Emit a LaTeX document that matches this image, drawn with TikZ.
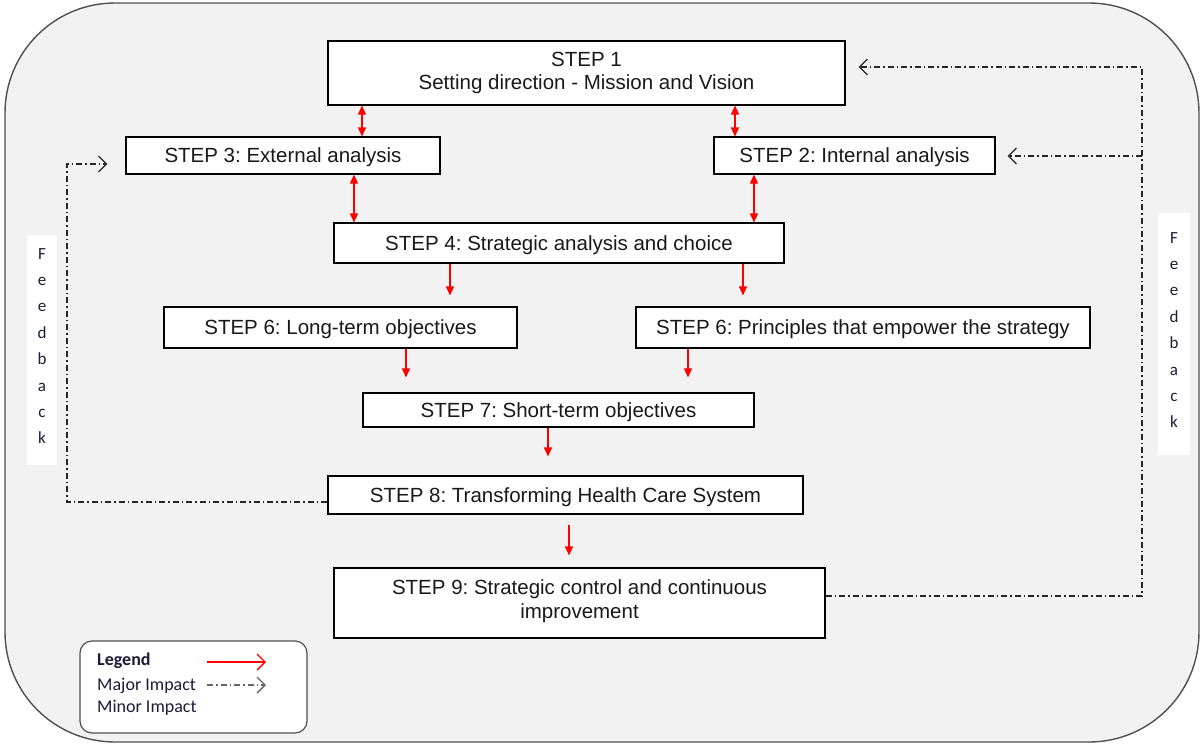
\documentclass[tikz,border=0pt]{standalone}
\usepackage{fontspec}
\setmainfont{Liberation Sans}
\newfontfamily\calib{Carlito}
\usetikzlibrary{arrows.meta}
\definecolor{bgray}{HTML}{F2F2F2}
\definecolor{framec}{HTML}{505050}
\definecolor{legtext}{HTML}{1C1C38}
\frenchspacing
\begin{document}
\begin{tikzpicture}[x=1pt,y=-1pt,
  stepbox/.style={draw=black, line width=1.1pt, fill=white, inner sep=0pt, align=center,
    font=\fontsize{20.5}{23.5}\selectfont, text=black!90},
  oneline/.style={text height=14.7pt, text depth=0pt},
  major/.style={draw=red, line width=1.4pt, -{Triangle[length=9pt,width=8pt]}},
  majorboth/.style={draw=red, line width=1.4pt, {Triangle[length=9pt,width=8pt]}-{Triangle[length=9pt,width=8pt]}},
  minor/.style={draw=black!85, line width=1.1pt, dash pattern=on 6pt off 3pt on 1.5pt off 3pt,
    -{Straight Barb[length=8pt,width=16pt,line width=1.3pt]}},
  fbbox/.style={fill=white, inner sep=0pt, align=center, text=legtext,
    font=\calib\fontsize{17}{26.4}\selectfont},
  legtxt/.style={anchor=west, inner sep=0pt, text=legtext, font=\calib\fontsize{18}{20}\selectfont}
]
\useasboundingbox (0,0) rectangle (1203,745);
\fill[white] (0,0) rectangle (1203,745);
\draw[framec, line width=1.4pt, fill=bgray, rounded corners=110pt] (5,3) rectangle (1199,742);

% step boxes
\node[stepbox, minimum width=517, minimum height=64] (s1) at (586.5,73) {STEP 1\\Setting direction - Mission and Vision};
\node[stepbox, oneline, minimum width=314, minimum height=37] (s3) at (283,155.5) {STEP 3: External analysis};
\node[stepbox, oneline, minimum width=281, minimum height=37] (s2) at (854.5,155.5) {STEP 2: Internal analysis};
\node[stepbox, oneline, minimum width=450, minimum height=40] (s4) at (559,243) {STEP 4: Strategic analysis and choice};
\node[stepbox, oneline, minimum width=353, minimum height=41] (s6l) at (340.5,327.5) {STEP 6: Long-term objectives};
\node[stepbox, oneline, minimum width=454, minimum height=41] (s6r) at (863,327.5) {STEP 6: Principles that empower the strategy};
\node[stepbox, oneline, minimum width=391, minimum height=34] (s7) at (558.5,410) {STEP 7: Short-term objectives};
\node[stepbox, oneline, minimum width=475, minimum height=38] (s8) at (565.5,495) {STEP 8: Transforming Health Care System};
\node[stepbox, minimum width=491, minimum height=70] (s9) at (579.5,603) {};
\node[align=center, inner sep=0pt, font=\fontsize{20.5}{23.5}\selectfont, text=black!90] (s9t) at (579.5,601) {STEP 9: Strategic control and continuous\\improvement};

% red connectors
\draw[majorboth] (s1.south -| 362,0) -- (s3.north -| 362,0);
\draw[majorboth] (s1.south -| 735,0) -- (s2.north -| 735,0);
\draw[majorboth] (s3.south -| 354,0) -- (s4.north -| 354,0);
\draw[majorboth] (s2.south -| 754,0) -- (s4.north -| 754,0);
\draw[major, shorten >=11pt] (s4.south -| 450,0) -- (s6l.north -| 450,0);
\draw[major, shorten >=11pt] (s4.south -| 743,0) -- (s6r.north -| 743,0);
\draw[major, shorten >=15pt] (s6l.south -| 406,0) -- (s7.north -| 406,0);
\draw[major, shorten >=15pt] (s6r.south -| 688,0) -- (s7.north -| 688,0);
\draw[major, shorten >=19pt] (s7.south -| 548,0) -- (s8.north -| 548,0);
\draw[major, shorten <=10pt, shorten >=12pt] (s8.south -| 569,0) -- (s9.north -| 569,0);

% feedback connectors
\coordinate (fl1) at (67,502);
\coordinate (fl2) at (67,164);
\draw[minor, shorten >=18pt] (s8.west |- fl1) -- (fl1) -- (fl2) -- (s3.west |- fl2);
\coordinate (fr1) at (1142,596);
\coordinate (fr2) at (1142,67);
\coordinate (fr3) at (1142,156);
\draw[minor, shorten >=13pt] (s9.east |- fr1) -- (fr1) -- (fr2) -- (s1.east |- fr2);
\draw[minor, shorten >=12pt] (fr3) -- (s2.east |- fr3);

% feedback labels
\node[fbbox, minimum width=30, minimum height=230] (fbl) at (42,350) {};
\node[fbbox] (fblt) at (42,346) {F\\e\\e\\d\\b\\a\\c\\k};
\node[fbbox, minimum width=32, minimum height=242] (fbr) at (1174,334) {};
\node[fbbox] (fbrt) at (1174,330) {F\\e\\e\\d\\b\\a\\c\\k};

% legend
\draw[framec, line width=1.2pt, fill=white, rounded corners=12pt] (80,641) rectangle (307,733);
\node[legtxt, font=\calib\bfseries\fontsize{18}{20}\selectfont] (lg) at (97,661) {Legend};
\node[legtxt] (lmaj) at (97,686) {Major Impact};
\node[legtxt] (lmin) at (97,708) {Minor Impact};
\coordinate (la1) at (207,662);
\coordinate (la2) at (266,662);
\coordinate (lb1) at (207,685);
\coordinate (lb2) at (266,685);
\draw[draw=red, line width=1.3pt, -{Straight Barb[length=8pt,width=16pt,line width=1.3pt]}] (la1) -- (la2);
\draw[minor, draw=black!60] (lb1) -- (lb2);
\end{tikzpicture}
\end{document}
